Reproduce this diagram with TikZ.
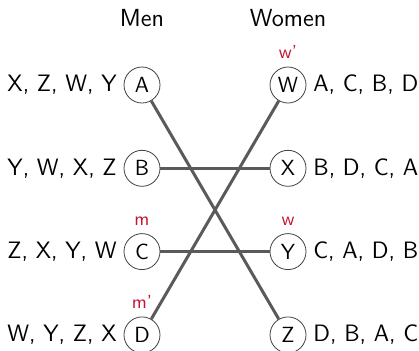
\documentclass[tikz,border=0pt]{standalone}
\usepackage{amsmath}
\usetikzlibrary{calc, positioning}
\renewcommand{\familydefault}{\sfdefault}
\definecolor{tagred}{RGB}{196,18,48}
\definecolor{pairgray}{RGB}{90,90,90}

\begin{document}
\begin{tikzpicture}[x=0.5bp, y=-0.5bp,
  person/.style={circle, draw=black!75, line width=0.4pt, minimum size=18bp, inner sep=0pt, font=\fontsize{11}{13}\selectfont},
  prefs/.style={inner sep=3.3pt, font=\fontsize{11.9}{14}\selectfont},
  tag/.style={text=tagred, inner sep=3.3pt, font=\fontsize{9.5}{11}\selectfont},
  pair/.style={pairgray, line width=1.5bp}]
\useasboundingbox (0,0) rectangle (419,350);
\def\xmen{142}
\def\xwomen{288}
\def\ytop{85}
\def\ystep{83.3}

\node[font=\fontsize{12.4}{14}\selectfont] (men) at (\xmen,18) {Men};
\node[font=\fontsize{12.4}{14}\selectfont] (women) at (\xwomen,18) {Women};

\foreach \m/\w/\k in {A/W/0, B/X/1, C/Y/2, D/Z/3} {
  \node[person] (\m) at (\xmen,{\ytop+\k*\ystep}) {\m};
  \node[person] (\w) at (\xwomen,{\ytop+\k*\ystep}) {\w};
}

\foreach \m/\lst in {A/{X, Z, W, Y}, B/{Y, W, X, Z}, C/{Z, X, Y, W}, D/{W, Y, Z, X}} {
  \node[prefs, left=0pt of \m] (list\m) {\lst};
}
\foreach \w/\lst in {W/{A, C, B, D}, X/{B, D, C, A}, Y/{C, A, D, B}, Z/{D, B, A, C}} {
  \node[prefs, right=0pt of \w] (list\w) {\lst};
}

\node[tag, above=0.5pt of W] (tagW) {w'};
\node[tag, above=0.5pt of C] (tagC) {m};
\node[tag, above=0.5pt of Y] (tagY) {w};
\node[tag, above=0.5pt of D] (tagD) {m'};

\draw[pair] (A) -- (Z);
\draw[pair] (B) -- (X);
\draw[pair] (C) -- (Y);
\draw[pair] (D) -- (W);
\end{tikzpicture}
\end{document}
